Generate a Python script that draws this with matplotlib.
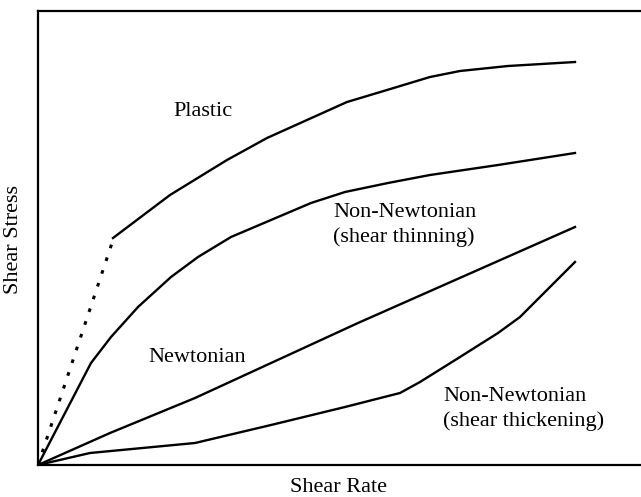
import matplotlib.pyplot as plt

plt.rcParams['font.family'] = ['Liberation Serif', 'DejaVu Serif']

# values (arbitrary units, origin at lower left)
plastic_yield_x = [0, 75]
plastic_yield_y = [0, 225]
plastic_x = [75, 132, 189, 229, 269, 309, 349, 392, 422, 470, 537]
plastic_y = [227, 270, 305, 327, 345, 363, 375, 388, 394, 399, 403]

thinning_x = [0, 27, 53, 73, 100, 133, 160, 193, 233, 273, 307, 350, 392, 460, 537]
thinning_y = [0, 52, 102, 128, 158, 188, 208, 228, 245, 262, 273, 282, 290, 300, 312]

newton_x = [0, 72, 157, 320, 485, 537]
newton_y = [0, 32, 67, 142, 215, 238]

thickening_x = [0, 52, 157, 233, 307, 362, 382, 422, 460, 482, 537]
thickening_y = [0, 12, 22, 40, 58, 72, 83, 108, 132, 148, 203]

fig = plt.figure(figsize=(6.41, 4.97), dpi=100)
ax = fig.add_axes([38 / 641, 32 / 497, 603 / 641, 454 / 497])

lw = 1.7
ax.plot(plastic_yield_x, plastic_yield_y, color='black', linewidth=2.2,
        linestyle=(0, (1.2, 3.2)), solid_capstyle='butt')
ax.plot(plastic_x, plastic_y, color='black', linewidth=lw)
ax.plot(thinning_x, thinning_y, color='black', linewidth=lw)
ax.plot(newton_x, newton_y, color='black', linewidth=lw)
ax.plot(thickening_x, thickening_y, color='black', linewidth=lw)

fs = 16
ax.text(135, 354, 'Plastic', fontsize=fs, va='center', ha='left')
ax.text(295, 262, 'Non-Newtonian\n(shear thinning)', fontsize=fs,
        va='top', ha='left', linespacing=1.35)
ax.text(110, 108, 'Newtonian', fontsize=fs, va='center', ha='left')
ax.text(405, 78, 'Non-Newtonian\n(shear thickening)', fontsize=fs,
        va='top', ha='left', linespacing=1.35)

ax.set_xlim(0, 603)
ax.set_ylim(0, 454)
ax.set_xticks([])
ax.set_yticks([])
ax.spines['right'].set_visible(False)
for s in ['left', 'top', 'bottom']:
    ax.spines[s].set_linewidth(1.6)

fig.text(339 / 641, 1 - 487 / 497, 'Shear Rate', fontsize=fs,
         ha='center', va='center')
fig.text(14 / 641, 1 - 240 / 497, 'Shear Stress', fontsize=fs,
         ha='center', va='center', rotation=90)

fig.savefig('out.png', dpi=100)
